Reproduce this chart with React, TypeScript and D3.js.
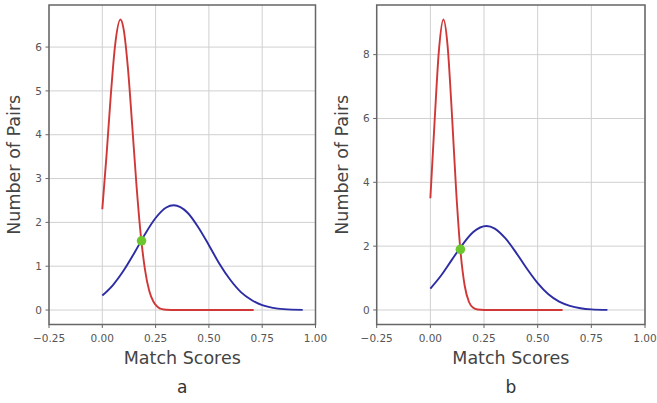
import * as d3 from 'd3';

// curve samples: [score, pairs]
const redA: [number, number][] = [
  [0, 2.3], [0.02, 3.54], [0.04, 4.91], [0.06, 6.04], [0.085, 6.63], [0.1, 6.41],
  [0.12, 5.53], [0.14, 4.23], [0.16, 2.87], [0.18, 1.73], [0.2, 0.93], [0.22, 0.44],
  [0.24, 0.19], [0.26, 0.07], [0.28, 0.02], [0.3, 0.006], [0.35, 0], [0.71, 0],
];
const blueA: [number, number][] = [
  [0, 0.33], [0.05, 0.57], [0.1, 0.9], [0.15, 1.3], [0.2, 1.73], [0.25, 2.1],
  [0.3, 2.34], [0.335, 2.39], [0.4, 2.22], [0.45, 1.89], [0.5, 1.48], [0.55, 1.05],
  [0.6, 0.69], [0.65, 0.41], [0.7, 0.23], [0.75, 0.11], [0.8, 0.05], [0.85, 0.02],
  [0.94, 0.003],
];
const redB: [number, number][] = [
  [0, 3.5], [0.02, 5.94], [0.04, 8.14], [0.061, 9.1], [0.08, 8.3], [0.1, 6.19],
  [0.12, 3.76], [0.14, 1.87], [0.16, 0.76], [0.18, 0.25], [0.2, 0.07], [0.22, 0.015],
  [0.25, 0], [0.616, 0],
];
const blueB: [number, number][] = [
  [0, 0.67], [0.05, 1.08], [0.1, 1.57], [0.15, 2.05], [0.2, 2.44], [0.261, 2.63],
  [0.3, 2.55], [0.35, 2.24], [0.4, 1.79], [0.45, 1.29], [0.5, 0.84], [0.55, 0.49],
  [0.6, 0.26], [0.65, 0.13], [0.7, 0.055], [0.75, 0.02], [0.825, 0.004],
];
const crossA: [number, number] = [0.184, 1.58];
const crossB: [number, number] = [0.14, 1.9];

const xTicks = [-0.25, 0, 0.25, 0.5, 0.75, 1.0];
const yTicksA = [0, 1, 2, 3, 4, 5, 6];
const yTicksB = [0, 2, 4, 6, 8];

const FONT = '"DejaVu Sans", sans-serif';
const TOP = 5, BOTTOM = 324.5;

function fmt(v: number) {
  const s = Math.abs(v).toFixed(2);
  return v < 0 ? '\u2212' + s : s;
}

function Panel({ left, right, yDomain, yTicks, red, blue, cross, label }: {
  left: number; right: number; yDomain: [number, number]; yTicks: number[];
  red: [number, number][]; blue: [number, number][]; cross: [number, number]; label: string;
}) {
  const x = d3.scaleLinear().domain([-0.25, 1.0]).range([left, right]);
  const y = d3.scaleLinear().domain(yDomain).range([BOTTOM, TOP]);
  const line = d3.line<[number, number]>().x(d => x(d[0])).y(d => y(d[1])).curve(d3.curveMonotoneX);
  const cx = (left + right) / 2;
  return (
    <g>
      {xTicks.map(t => (
        <line key={'gx' + t} x1={x(t)} x2={x(t)} y1={TOP} y2={BOTTOM} stroke="#d0d0d0" strokeWidth={1} />
      ))}
      {yTicks.map(t => (
        <line key={'gy' + t} x1={left} x2={right} y1={y(t)} y2={y(t)} stroke="#d0d0d0" strokeWidth={1} />
      ))}
      <path d={line(red) ?? ''} fill="none" stroke="#d03838" strokeWidth={1.9} />
      <path d={line(blue) ?? ''} fill="none" stroke="#2c2ca4" strokeWidth={1.9} />
      <circle cx={x(cross[0])} cy={y(cross[1])} r={4.8} fill="#6cc72e" />
      <rect x={left} y={TOP} width={right - left} height={BOTTOM - TOP} fill="none" stroke="#666" strokeWidth={1.5} />
      {xTicks.map(t => (
        <g key={'tx' + t}>
          <line x1={x(t)} x2={x(t)} y1={BOTTOM} y2={BOTTOM + 3.5} stroke="#666" />
          <text x={x(t)} y={BOTTOM + 17} textAnchor="middle" fontSize={10.5} fill="#555" fontFamily={FONT}>{fmt(t)}</text>
        </g>
      ))}
      {yTicks.map(t => (
        <g key={'ty' + t}>
          <line x1={left - 3.5} x2={left} y1={y(t)} y2={y(t)} stroke="#666" />
          <text x={left - 7} y={y(t)} dy="0.35em" textAnchor="end" fontSize={10.5} fill="#555" fontFamily={FONT}>{t}</text>
        </g>
      ))}
      <text x={cx} y={BOTTOM + 39} textAnchor="middle" fontSize={17.5} fill="#444" fontFamily={FONT}>Match Scores</text>
      <text transform={`translate(${left - 29},${(TOP + BOTTOM) / 2}) rotate(-90)`} textAnchor="middle"
        fontSize={17.5} fill="#444" fontFamily={FONT}>Number of Pairs</text>
      <text x={cx} y={393} textAnchor="middle" fontSize={17} fill="#333" fontFamily={FONT}>{label}</text>
    </g>
  );
}

export default function App() {
  return (
    <>
      <style>{'body{margin:0}'}</style>
      <svg width={657} height={403} style={{ display: 'block', background: '#fff' }}>
        <Panel left={49} right={315.5} yDomain={[-0.33, 6.96]} yTicks={yTicksA}
          red={redA} blue={blueA} cross={crossA} label="a" />
        <Panel left={376.7} right={645} yDomain={[-0.455, 9.555]} yTicks={yTicksB}
          red={redB} blue={blueB} cross={crossB} label="b" />
      </svg>
    </>
  );
}
